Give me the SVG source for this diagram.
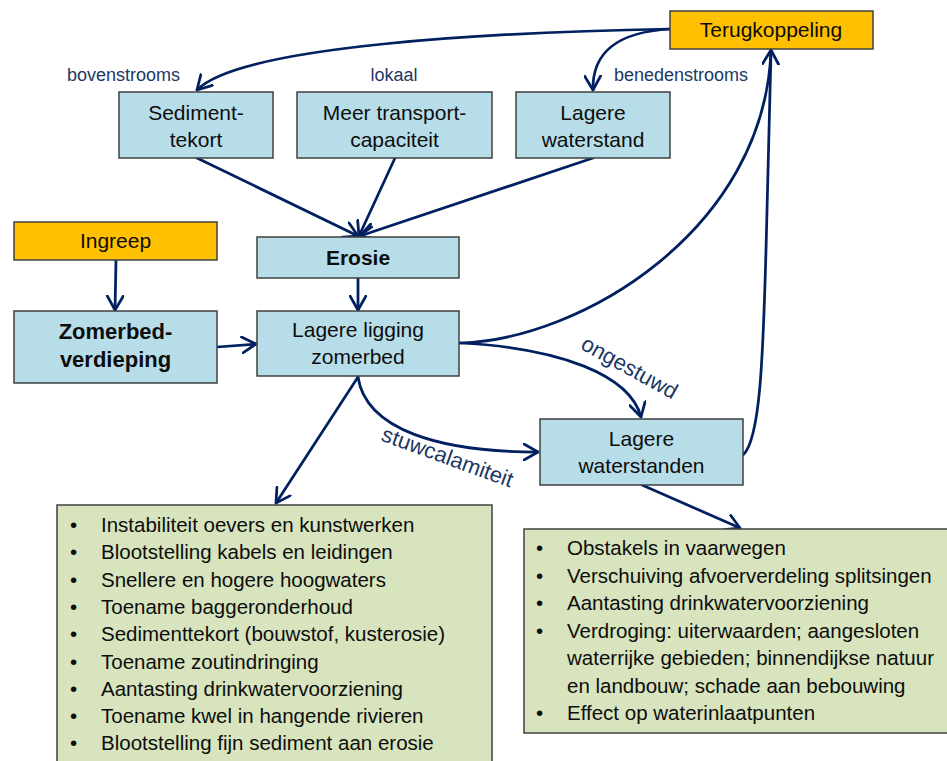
<svg xmlns="http://www.w3.org/2000/svg" width="947" height="761" viewBox="0 0 947 761">
<defs>
<style>
.box{stroke:#404040;stroke-width:1.5}
.blue{fill:#B7DDE8}
.orange{fill:#FFC000}
.green{fill:#D7E4BD}
.t{font-family:"Liberation Sans",Arial,sans-serif;font-size:21px;fill:#0d0d0d;text-anchor:middle}
.b{font-weight:bold}
.lbl{font-family:"Liberation Sans",Arial,sans-serif;font-size:18px;fill:#203864}
.lbl2{font-family:"Liberation Sans",Arial,sans-serif;font-size:22px;fill:#203864;text-anchor:middle}
.li{font-family:"Liberation Sans",Arial,sans-serif;font-size:20.5px;fill:#0d0d0d}
.c{fill:none;stroke:#002060;stroke-width:2.75;stroke-linecap:round}
</style>
<marker id="ah" viewBox="0 0 16 18" refX="15" refY="9" markerWidth="16" markerHeight="18" markerUnits="userSpaceOnUse" orient="auto">
<path d="M1,1 L15,9 L1,17" fill="none" stroke="#002060" stroke-width="2.75" stroke-linecap="round" stroke-linejoin="round"/>
</marker>
</defs>
<rect width="947" height="761" fill="#ffffff"/>

<g id="connectors">
<path class="c" marker-end="url(#ah)" d="M670,29 C500,32 240,45 197,90"/>
<path class="c" marker-end="url(#ah)" d="M670,29 C620,32 592,50 593,90"/>
<path class="c" marker-end="url(#ah)" d="M197,158 L358,236"/>
<path class="c" marker-end="url(#ah)" d="M395,158 L359,236"/>
<path class="c" marker-end="url(#ah)" d="M593,158 L360,236"/>
<path class="c" marker-end="url(#ah)" d="M358,278 L358,310"/>
<path class="c" marker-end="url(#ah)" d="M116,260 L115,310"/>
<path class="c" marker-end="url(#ah)" d="M217,347 L256,344"/>
<path class="c" marker-end="url(#ah)" d="M460,343 C580,340 765,230 771,50"/>
<path class="c" d="M743,455 C760,440 763,360 766,250 C768,160 770,100 771,52"/>
<path class="c" marker-end="url(#ah)" d="M460,343 C560,348 630,375 641,417"/>
<path class="c" marker-end="url(#ah)" d="M358,377 C366,430 440,452 538,452"/>
<path class="c" marker-end="url(#ah)" d="M358,377 L276,503"/>
<path class="c" marker-end="url(#ah)" d="M642,485 L740,528"/>
</g>

<g id="labels">
<text class="lbl" x="67" y="81">bovenstrooms</text>
<text class="lbl" x="394" y="81" text-anchor="middle">lokaal</text>
<text class="lbl" x="681" y="81" text-anchor="middle">benedenstrooms</text>
<text class="lbl2" transform="translate(626,374) rotate(29)">ongestuwd</text>
<text class="lbl2" transform="translate(445,464) rotate(20)">stuwcalamiteit</text>
</g>

<g id="terugkoppeling">
<rect class="box orange" x="670" y="11" width="203" height="38"/>
<text class="t" x="771" y="37">Terugkoppeling</text>
</g>
<g id="sedimenttekort">
<rect class="box blue" x="119" y="92" width="154" height="66"/>
<text class="t" x="196" y="120">Sediment-</text>
<text class="t" x="196" y="147">tekort</text>
</g>
<g id="transportcapaciteit">
<rect class="box blue" x="297" y="92" width="195" height="66"/>
<text class="t" x="394.5" y="120">Meer transport-</text>
<text class="t" x="394.5" y="147">capaciteit</text>
</g>
<g id="lagerewaterstand">
<rect class="box blue" x="516" y="92" width="154" height="66"/>
<text class="t" x="593" y="120">Lagere</text>
<text class="t" x="593" y="147">waterstand</text>
</g>
<g id="ingreep">
<rect class="box orange" x="14" y="222" width="203" height="38"/>
<text class="t" x="115.5" y="248">Ingreep</text>
</g>
<g id="erosie">
<rect class="box blue" x="257" y="237" width="202" height="41"/>
<text class="t b" x="358" y="265">Erosie</text>
</g>
<g id="zomerbedverdieping">
<rect class="box blue" x="14" y="311" width="203" height="72"/>
<text class="t b" x="115.5" y="339" style="font-size:22px">Zomerbed-</text>
<text class="t b" x="115.5" y="367" style="font-size:22px">verdieping</text>
</g>
<g id="lagereligging">
<rect class="box blue" x="257" y="311" width="202" height="65"/>
<text class="t" x="358" y="337">Lagere ligging</text>
<text class="t" x="358" y="364">zomerbed</text>
</g>
<g id="lagerewaterstanden">
<rect class="box blue" x="540" y="419" width="203" height="66"/>
<text class="t" x="641.5" y="446">Lagere</text>
<text class="t" x="641.5" y="473">waterstanden</text>
</g>

<g id="gevolgen-erosie">
<rect class="box green" x="57" y="505" width="435" height="275"/>
<g class="li">
<text x="70" y="532">•</text><text x="101" y="532">Instabiliteit oevers en kunstwerken</text>
<text x="70" y="559.3">•</text><text x="101" y="559.3">Blootstelling kabels en leidingen</text>
<text x="70" y="586.6">•</text><text x="101" y="586.6">Snellere en hogere hoogwaters</text>
<text x="70" y="613.9">•</text><text x="101" y="613.9">Toename baggeronderhoud</text>
<text x="70" y="641.2">•</text><text x="101" y="641.2">Sedimenttekort (bouwstof, kusterosie)</text>
<text x="70" y="668.5">•</text><text x="101" y="668.5">Toename zoutindringing</text>
<text x="70" y="695.8">•</text><text x="101" y="695.8">Aantasting drinkwatervoorziening</text>
<text x="70" y="723.1">•</text><text x="101" y="723.1">Toename kwel in hangende rivieren</text>
<text x="70" y="750.4">•</text><text x="101" y="750.4">Blootstelling fijn sediment aan erosie</text>
</g>
</g>

<g id="gevolgen-waterstanden">
<rect class="box green" x="524" y="529" width="440" height="204"/>
<g class="li">
<text x="536" y="555">•</text><text x="567" y="555">Obstakels in vaarwegen</text>
<text x="536" y="582.5">•</text><text x="567" y="582.5">Verschuiving afvoerverdeling splitsingen</text>
<text x="536" y="610">•</text><text x="567" y="610">Aantasting drinkwatervoorziening</text>
<text x="536" y="637.5">•</text><text x="567" y="637.5">Verdroging: uiterwaarden; aangesloten</text>
<text x="567" y="665">waterrijke gebieden; binnendijkse natuur</text>
<text x="567" y="692.5">en landbouw; schade aan bebouwing</text>
<text x="536" y="720">•</text><text x="567" y="720">Effect op waterinlaatpunten</text>
</g>
</g>
</svg>
